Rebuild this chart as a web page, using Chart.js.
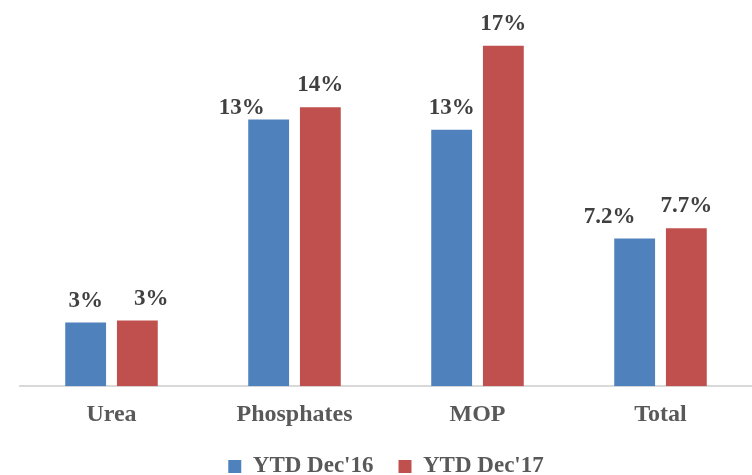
<!DOCTYPE html>
<html lang="en">
<head>
    <meta charset="UTF-8">
    <script src="https://cdn.jsdelivr.net/npm/chart.js"></script>
    <title>YTD growth</title>
    <style>
        body { margin: 0; background: #fff; }
        #wrap { width: 752px; height: 475px; }
    </style>
</head>
<body>
    <div id="wrap"><canvas id="growthChart" width="752" height="475"></canvas></div>

<script>
// values
const categories = ['Urea', 'Phosphates', 'MOP', 'Total'];
const ytdDec16 = [3.1, 13.0, 12.5, 7.2];
const ytdDec17 = [3.2, 13.6, 16.6, 7.7];
const labelsDec16 = ['3%', '13%', '13%', '7.2%'];
const labelsDec17 = ['3%', '14%', '17%', '7.7%'];

const serif = '"Liberation Serif", "Times New Roman", serif';

// draws the value labels above each bar
const barLabels = {
    id: 'barLabels',
    afterDatasetsDraw(chart, args, opts) {
        const ctx = chart.ctx;
        ctx.save();
        ctx.font = 'bold 23px ' + serif;
        ctx.fillStyle = '#404040';
        ctx.textAlign = 'center';
        ctx.textBaseline = 'alphabetic';
        chart.data.datasets.forEach((ds, i) => {
            const meta = chart.getDatasetMeta(i);
            meta.data.forEach((bar, j) => {
                const nudge = (opts.nudge[i] && opts.nudge[i][j]) || [0, 0];
                ctx.fillText(ds.valueLabels[j], bar.x + nudge[0], bar.y - 16 + nudge[1]);
            });
        });
        ctx.restore();
    }
};

new Chart(document.getElementById('growthChart'), {
    type: 'bar',
    data: {
        labels: categories,
        datasets: [{
            label: "YTD Dec'16",
            data: ytdDec16,
            valueLabels: labelsDec16,
            backgroundColor: '#4f81bd'
        }, {
            label: "YTD Dec'17",
            data: ytdDec17,
            valueLabels: labelsDec17,
            backgroundColor: '#c0504d'
        }]
    },
    options: {
        responsive: false,
        animation: false,
        categoryPercentage: 0.565,
        barPercentage: 0.79,
        layout: { padding: { top: 17, left: 20, right: 0, bottom: -13 } },
        scales: {
            x: {
                grid: { display: false },
                border: { color: '#d9d9d9', width: 2 },
                ticks: { color: '#595959', padding: 6, font: { family: serif, size: 24, weight: 'bold' } },
                afterFit(scale) { scale.height -= 5; }
            },
            y: { display: false, min: 0, max: 18 }
        },
        plugins: {
            tooltip: { enabled: false },
            legend: {
                position: 'bottom',
                labels: {
                    color: '#595959',
                    boxWidth: 13,
                    boxHeight: 13,
                    padding: 25,
                    font: { family: serif, size: 23, weight: 'bold' }
                }
            },
            barLabels: {
                nudge: [[[0, 0], [-27, 10], [0, 0], [-25, 0]], [[14, 0], [0, 0], [0, 0], [0, 0]]]
            }
        }
    },
    plugins: [barLabels]
});
</script>
</body>
</html>
